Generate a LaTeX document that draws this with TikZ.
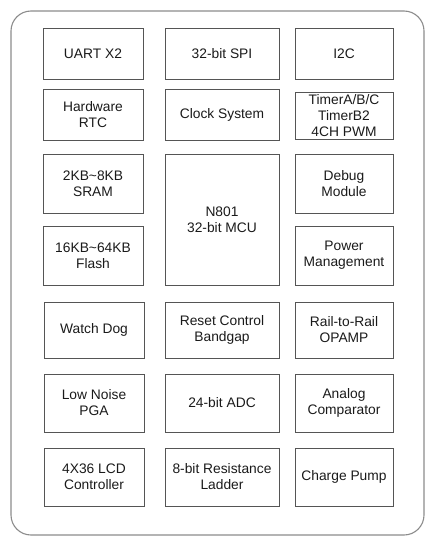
\documentclass[tikz,border=0pt]{standalone}
\usepackage{fontspec}
\setmainfont{Liberation Sans}
\usepackage{xcolor}
\usepackage{tikz}
\usetikzlibrary{positioning}
\definecolor{edgec}{HTML}{555555}
\definecolor{framec}{HTML}{8C8C8C}
\definecolor{textc}{HTML}{1A1A1A}
\tikzset{
  blk/.style={draw=edgec,line width=0.9pt,align=center,inner sep=0pt,text=textc,
    font=\fontsize{13.8}{16}\selectfont},
  colA/.style={blk,minimum width=100},
  colB/.style={blk,minimum width=114},
  colC/.style={blk,minimum width=98}
}

\begin{document}
\begin{tikzpicture}[x=1pt,y=-1pt]
\useasboundingbox (0,0) rectangle (432,543);
\draw[framec,line width=1.1pt,rounded corners=20pt] (11,11) rectangle (424,535);
% row 1
\node[colA,minimum height=51] (uart) at (93,53.5) {UART X2};
\node[colB,minimum height=51] (spi) at (222,53.5) {32-bit SPI};
\node[colC,minimum height=51] (iic) at (344,53.5) {I2C};
% row 2
\node[colA,minimum height=51] (rtc) at (93,114.5) {Hardware\\RTC};
\node[colB,minimum height=51] (clk) at (222,114.5) {Clock System};
\node[colC,minimum height=47] (tmr) at (344,115.5) {TimerA/B/C\\TimerB2\\4CH PWM};
% rows 3-4
\node[colA,minimum height=59] (sram) at (93,183.5) {2KB\textasciitilde 8KB\\SRAM};
\node[colA,minimum height=59] (flash) at (93,255.5) {16KB\textasciitilde 64KB\\Flash};
\node[colB,minimum height=131] (mcu) at (222,219.5) {N801\\32-bit MCU};
\node[colC,minimum height=59] (dbg) at (344,183.5) {Debug\\Module};
\node[colC,minimum height=59] (pwr) at (344,255.5) {Power\\Management};
% row 5
\node[colA,minimum height=56] (wdog) at (94,330) {Watch Dog};
\node[colB,minimum height=56] (rst) at (222,330) {Reset Control\\Bandgap};
\node[colC,minimum height=56] (opa) at (344,330) {Rail-to-Rail\\OPAMP};
% row 6
\node[colA,minimum height=58] (pga) at (94,403) {Low Noise\\PGA};
\node[colB,minimum height=58] (adc) at (222,403) {24-bit ADC};
\node[colC,minimum height=58] (cmp) at (344,403) {Analog\\Comparator};
% row 7
\node[colA,minimum height=58] (lcd) at (94,477) {4X36 LCD\\Controller};
\node[colB,minimum height=58] (lad) at (222,477) {8-bit Resistance\\Ladder};
\node[colC,minimum height=58] (cp) at (344,477) {Charge Pump};
\end{tikzpicture}
\end{document}
